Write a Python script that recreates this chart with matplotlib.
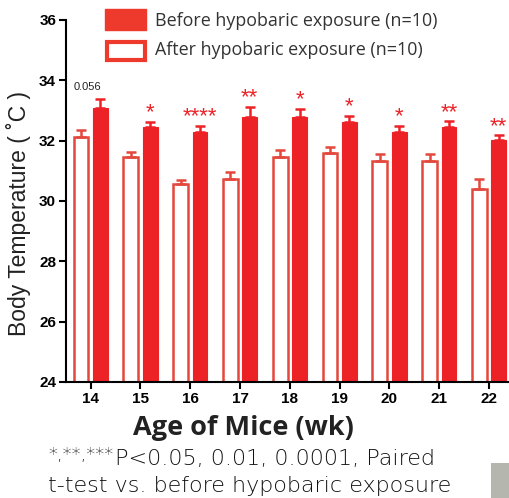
import matplotlib.pyplot as plt
import matplotlib.patches as mpatches
import numpy as np

weeks = [14, 15, 16, 17, 18, 19, 20, 21, 22]
after = [32.13, 31.46, 30.57, 30.74, 31.46, 31.60, 31.33, 31.33, 30.40]
after_err = [0.23, 0.17, 0.12, 0.23, 0.23, 0.20, 0.22, 0.22, 0.33]
before = [33.09, 32.46, 32.29, 32.79, 32.79, 32.62, 32.29, 32.46, 32.03]
before_err = [0.30, 0.16, 0.20, 0.33, 0.26, 0.20, 0.20, 0.18, 0.14]
marks = ["0.056", "*", "****", "**", "*", "*", "*", "**", "**"]

red = "#ED2227"
edge = "#E4473C"

fig = plt.figure(figsize=(5.1, 4.98), dpi=100)
ax = fig.add_axes([0.129, 0.233, 0.871, 0.727])

x = np.array(weeks, dtype=float)
w = 0.3
off = 0.195

ax.bar(x - off, after, width=w, color="white", edgecolor=edge, linewidth=1.8, zorder=2)
ax.errorbar(x - off, after, yerr=[np.zeros(len(after)), after_err], fmt="none",
            ecolor=edge, elinewidth=1.8, capsize=3.5, capthick=1.8, zorder=3)
ax.bar(x + off, before, width=w, color=red, edgecolor=red, linewidth=0.8, zorder=2)
ax.errorbar(x + off, before, yerr=[np.zeros(len(before)), before_err], fmt="none",
            ecolor=red, elinewidth=1.8, capsize=3.5, capthick=1.8, zorder=3)

for xi, b, e, m in zip(x, before, before_err, marks):
    if m == "0.056":
        ax.text(xi - 0.07, 33.6, m, ha="center", va="bottom", fontsize=8,
                color="#222222", family="Liberation Sans")
    else:
        ax.text(xi + off, b + e - 0.05, m, ha="center", va="bottom", fontsize=16,
                color=red, family="Liberation Sans")

ax.set_xlim(13.5, 22.42)
ax.set_ylim(24, 36)
ax.set_yticks([24, 26, 28, 30, 32, 34, 36])
ax.set_xticks(weeks)
ax.spines["top"].set_visible(False)
ax.spines["right"].set_visible(False)
ax.spines["left"].set_linewidth(1.5)
ax.spines["bottom"].set_linewidth(1.5)
ax.tick_params(axis="both", width=1.5, length=5, labelsize=11, pad=2)
for lab in ax.get_xticklabels() + ax.get_yticklabels():
    lab.set_fontweight("bold")
    lab.set_family("Liberation Sans")

ax.set_ylabel("Body Temperature ( ˚C )", fontsize=16.5, color="#222222",
              family="Liberation Sans")
ax.yaxis.set_label_coords(-0.078, 0.464)

# legend drawn as figure patches
fig.patches.append(mpatches.Rectangle((105 / 510, 1 - 30 / 498), 41 / 510, 21 / 498,
                                      transform=fig.transFigure, facecolor="#EE3A2C",
                                      edgecolor="#EE3A2C", linewidth=1))
fig.patches.append(mpatches.Rectangle((107 / 510, 1 - 60 / 498), 38 / 510, 18 / 498,
                                      transform=fig.transFigure, facecolor="white",
                                      edgecolor="#EE3A2C", linewidth=3))
fig.text(155 / 510, 1 - 21 / 498, "Before hypobaric exposure (n=10)", fontsize=12.9,
         color="#333333", va="center", family="Open Sans")
fig.text(155 / 510, 1 - 50 / 498, "After hypobaric exposure (n=10)", fontsize=12.9,
         color="#333333", va="center", family="Open Sans")

fig.text(243 / 510, 1 - 428 / 498, "Age of Mice (wk)", fontsize=19.5, fontweight="bold",
         color="#222222", ha="center", va="center", family="Open Sans")

# footnote
fig.text(114 / 510, 1 - 455 / 498, "*,**,***", fontsize=13, color="#111111",
         ha="right", va="center", family="DejaVu Sans", fontweight="light")
fig.text(115 / 510, 1 - 459 / 498, "P<0.05, 0.01, 0.0001, Paired", fontsize=16,
         color="#111111", ha="left", va="center", family="DejaVu Sans", fontweight="light")
fig.text(250 / 510, 1 - 486 / 498, "t-test vs. before hypobaric exposure", fontsize=16,
         color="#111111", ha="center", va="center", family="DejaVu Sans", fontweight="light")

fig.patches.append(mpatches.Rectangle((491 / 510, 0), 19 / 510, 35 / 498,
                                      transform=fig.transFigure, facecolor="#B5B7AE",
                                      edgecolor="none"))

fig.savefig("out.png", dpi=100)
